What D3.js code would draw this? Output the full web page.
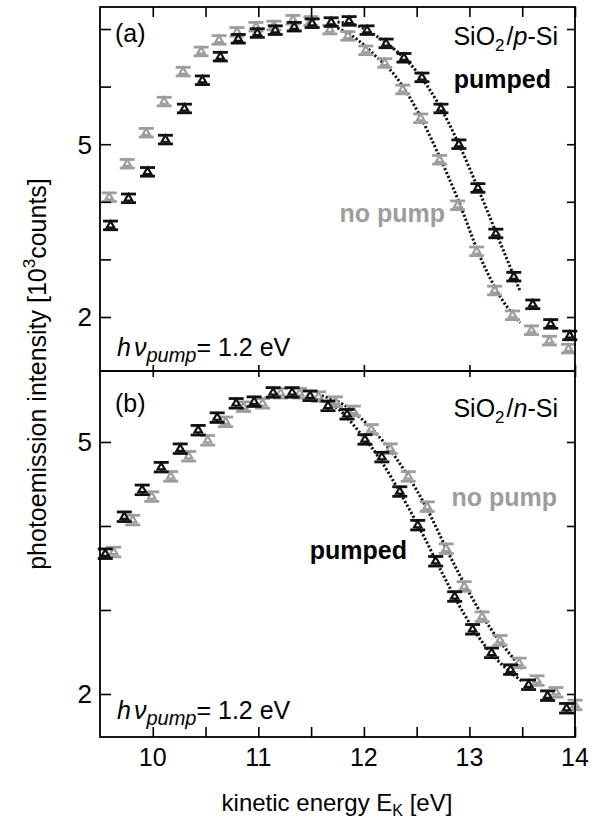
<!DOCTYPE html>
<html>
<head>
<meta charset="utf-8">
<script src="https://cdn.jsdelivr.net/npm/d3@7"></script>
<style>
  body { margin: 0; background: #fff; }
  text { font-family: "Liberation Sans", Arial, sans-serif; }
</style>
</head>
<body>
<svg id="chart"></svg>
<script>
let width = 597,
  height = 821,
  grey = "#9d9d9d"

// panel (a): SiO2/p-Si
let energyA = [9.6, 9.77, 9.95, 10.12, 10.3, 10.47, 10.64, 10.81, 10.99, 11.16, 11.34, 11.51, 11.69,
  11.86, 12.03, 12.21, 12.38, 12.55, 12.73, 12.9, 13.08, 13.25, 13.42, 13.6, 13.77, 13.95]
let pumpedA = [3.59, 4.06, 4.52, 5.08, 5.62, 6.11, 6.52, 6.83, 6.93, 6.98, 7.04, 7.1, 7.12,
  7.14, 6.98, 6.75, 6.5, 6.16, 5.62, 5.0, 4.24, 3.45, 2.7, 2.22, 1.88, 1.68]
let nopumpA = [4.08, 4.66, 5.2, 5.74, 6.26, 6.61, 6.81, 6.95, 7.04, 7.06, 7.16, 7.14, 6.99,
  6.88, 6.63, 6.41, 5.95, 5.45, 4.73, 3.94, 3.14, 2.46, 2.03, 1.77, 1.59, 1.45]
let fitEnergyA = [11.75, 11.95, 12.1, 12.3, 12.5, 12.7, 12.9, 13.1, 13.3, 13.48]
let fitPumpedA = [7.12, 7.05, 6.9, 6.63, 6.26, 5.72, 5.0, 4.15, 3.25, 2.45]
let fitNopumpA = [7.02, 6.8, 6.55, 6.18, 5.6, 4.85, 4.0, 3.05, 2.33, 1.9]

// panel (b): SiO2/n-Si
let energyB_pumped = [9.55, 9.73, 9.9, 10.08, 10.26, 10.43, 10.61, 10.79, 10.96, 11.14, 11.32, 11.49, 11.66,
  11.84, 12.01, 12.17, 12.34, 12.51, 12.68, 12.86, 13.03, 13.21, 13.39, 13.56, 13.74, 13.92]
let pumpedB = [3.67, 4.11, 4.43, 4.7, 4.92, 5.14, 5.29, 5.46, 5.48, 5.59, 5.59, 5.55, 5.43,
  5.33, 5.03, 4.82, 4.41, 4.01, 3.58, 3.16, 2.77, 2.49, 2.29, 2.11, 1.98, 1.83]
let energyB_nopump = [9.63, 9.81, 9.99, 10.17, 10.34, 10.52, 10.69, 10.86, 11.04, 11.21, 11.39, 11.57, 11.73,
  11.9, 12.07, 12.25, 12.42, 12.6, 12.78, 12.95, 13.12, 13.29, 13.47, 13.64, 13.82, 14.0]
let nopumpB = [3.69, 4.07, 4.35, 4.59, 4.83, 5.02, 5.24, 5.42, 5.46, 5.58, 5.58, 5.54, 5.48,
  5.37, 5.15, 4.92, 4.59, 4.23, 3.73, 3.28, 2.92, 2.64, 2.37, 2.16, 2.02, 1.87]
let fitEnergyB_pumped = [11.55, 11.75, 11.95, 12.15, 12.35, 12.55, 12.75, 12.95, 13.15, 13.35, 13.5]
let fitPumpedB = [5.52, 5.4, 5.13, 4.8, 4.38, 3.92, 3.42, 2.95, 2.57, 2.3, 2.15]
let fitEnergyB_nopump = [11.6, 11.8, 12.0, 12.2, 12.4, 12.6, 12.8, 13.0, 13.2, 13.4, 13.5]
let fitNopumpB = [5.55, 5.45, 5.25, 4.98, 4.63, 4.2, 3.68, 3.2, 2.78, 2.45, 2.3]

let errA = 0.075,
  errB = 0.057

let xMajor = [10, 11, 12, 13, 14]
let xAll = [10, 10.5, 11, 11.5, 12, 12.5, 13, 13.5, 14]
let yTicksA = [2, 3, 4, 5, 6, 7],
  yTicksB = [2, 3, 4, 5],
  yLabels = [2, 5]

let svg = d3.select("#chart")
  .attr("width", width)
  .attr("height", height)

let x = d3.scaleLinear().domain([9.5, 14]).range([100, 575])
let yA = d3.scaleLinear().domain([1.0625, 7.382]).range([371, 7])
let yB = d3.scaleLinear().domain([1.488, 5.845]).range([737, 371])

function drawSeries(g, y, ex, ey, err, color) {
  let pts = g.append("g")
    .selectAll("g")
    .data(d3.zip(ex, ey)).enter()
    .append("g")
    .attr("transform", d => `translate(${x(d[0])},${y(d[1])})`)

  pts.append("line")
    .attr("x1", 0).attr("x2", 0)
    .attr("y1", d => y(d[1] + err) - y(d[1]))
    .attr("y2", d => y(d[1] - err) - y(d[1]))
    .attr("stroke", color)
    .attr("stroke-width", 2)
  for (let s of [1, -1]) {
    pts.append("line")
      .attr("x1", -7.5).attr("x2", 7.5)
      .attr("y1", d => y(d[1] + s * err) - y(d[1]))
      .attr("y2", d => y(d[1] + s * err) - y(d[1]))
      .attr("stroke", color)
      .attr("stroke-width", 2.8)
  }
  pts.append("path")
    .attr("d", d3.symbol().type(d3.symbolTriangle).size(24))
    .attr("fill", "#fff")
    .attr("stroke", color)
    .attr("stroke-width", 2.2)
}

function drawFit(g, y, fx, fy) {
  let line = d3.line()
    .x(d => x(d[0]))
    .y(d => y(d[1]))
    .curve(d3.curveMonotoneX)
  g.append("path")
    .attr("d", line(d3.zip(fx, fy)))
    .attr("fill", "none")
    .attr("stroke", "#111")
    .attr("stroke-width", 3)
    .attr("stroke-dasharray", "2.2,2")
}

function drawFrame(y, yTicks, top, bottom, minorTop, minorBottom) {
  let g = svg.append("g")
  // ticks point into the frame on every side
  g.append("g")
    .attr("transform", "translate(100,0)")
    .call(d3.axisLeft(y).tickValues(yTicks).tickSize(-11).tickFormat(""))
  g.append("g")
    .attr("transform", "translate(575,0)")
    .call(d3.axisRight(y).tickValues(yTicks).tickSize(-8).tickFormat(""))
  g.append("g")
    .attr("transform", `translate(0,${top})`)
    .call(d3.axisTop(x).tickValues(minorTop ? xAll : xMajor).tickSize(minorTop ? -10 : -6).tickFormat(""))
  g.append("g")
    .attr("transform", `translate(0,${bottom})`)
    .call(d3.axisBottom(x).tickValues(minorBottom ? xAll : xMajor).tickSize(minorBottom ? -10 : -6).tickFormat(""))
  g.selectAll(".domain").remove()
  g.selectAll(".tick line").attr("stroke", "#000").attr("stroke-width", 1.6)

  g.selectAll(".ylab")
    .data(yLabels).enter()
    .append("text")
    .attr("x", 92)
    .attr("y", d => y(d))
    .attr("dy", "0.36em")
    .attr("text-anchor", "end")
    .attr("font-size", 26)
    .text(d => d)

  svg.append("rect")
    .attr("x", 100).attr("y", top)
    .attr("width", 475).attr("height", bottom - top)
    .attr("fill", "none")
    .attr("stroke", "#000")
    .attr("stroke-width", 1.8)
}

function hnu(g, yb) {
  let t = g.append("text").attr("x", 117).attr("y", yb).attr("font-size", 25)
  t.append("tspan").attr("font-style", "italic").text("h")
  t.append("tspan").attr("font-style", "italic").attr("dx", 3).text("ν")
  t.append("tspan").attr("font-style", "italic").attr("font-size", 20).attr("dy", 6).text("pump")
  t.append("tspan").attr("dy", -6).text("= 1.2 eV")
}

function sample(g, xe, yb, letter) {
  let t = g.append("text").attr("x", xe).attr("y", yb).attr("font-size", 25).attr("text-anchor", "end")
  t.append("tspan").text("SiO")
  t.append("tspan").attr("font-size", 17).attr("dy", 6).text("2")
  t.append("tspan").attr("dy", -6).attr("dx", 2).text("/")
  t.append("tspan").attr("font-style", "italic").text(letter)
  t.append("tspan").text("-Si")
}

// panel (a)
let ga = svg.append("g")
drawFit(ga, yA, fitEnergyA, fitPumpedA)
drawFit(ga, yA, fitEnergyA, fitNopumpA)
drawSeries(ga, yA, energyA.map(e => e - 0.012), nopumpA, errA, grey)
drawSeries(ga, yA, energyA, pumpedA, errA, "#111")
drawFrame(yA, yTicksA, 7, 371, true, false)

ga.append("text").attr("x", 115).attr("y", 42).attr("font-size", 25).text("(a)")
sample(ga, 558, 45, "p")
ga.append("text").attr("x", 551).attr("y", 88).attr("font-size", 25)
  .attr("font-weight", "bold").attr("text-anchor", "end").text("pumped")
ga.append("text").attr("x", 445).attr("y", 222).attr("font-size", 25)
  .attr("font-weight", "bold").attr("text-anchor", "end").attr("fill", grey).text("no pump")
hnu(ga, 356)

// panel (b)
let gb = svg.append("g")
drawFit(gb, yB, fitEnergyB_pumped, fitPumpedB)
drawFit(gb, yB, fitEnergyB_nopump, fitNopumpB)
drawSeries(gb, yB, energyB_nopump, nopumpB, errB, grey)
drawSeries(gb, yB, energyB_pumped, pumpedB, errB, "#111")
drawFrame(yB, yTicksB, 371, 737, false, true)

gb.append("text").attr("x", 115).attr("y", 412).attr("font-size", 25).text("(b)")
sample(gb, 558, 417, "n")
gb.append("text").attr("x", 557).attr("y", 506).attr("font-size", 25)
  .attr("font-weight", "bold").attr("text-anchor", "end").attr("fill", grey).text("no pump")
gb.append("text").attr("x", 407).attr("y", 559).attr("font-size", 25)
  .attr("font-weight", "bold").attr("text-anchor", "end").text("pumped")
hnu(gb, 719)

// x tick labels
svg.append("g")
  .selectAll("text")
  .data(xMajor).enter()
  .append("text")
  .attr("x", d => x(d))
  .attr("y", 766)
  .attr("text-anchor", "middle")
  .attr("font-size", 25)
  .text(d => d)

// axis titles
let xt = svg.append("text")
  .attr("x", 337)
  .attr("y", 811)
  .attr("text-anchor", "middle")
  .attr("font-size", 24)
xt.append("tspan").text("kinetic energy E")
xt.append("tspan").attr("font-size", 16).attr("dy", 5).text("K")
xt.append("tspan").attr("dy", -5).text(" [eV]")

let yt = svg.append("text")
  .attr("transform", "translate(46,374) rotate(-90)")
  .attr("text-anchor", "middle")
  .attr("font-size", 25)
yt.append("tspan").text("photoemission intensity [10")
yt.append("tspan").attr("font-size", 17).attr("dy", -11).text("3")
yt.append("tspan").attr("dy", 11).text("counts]")
</script>
</body>
</html>
